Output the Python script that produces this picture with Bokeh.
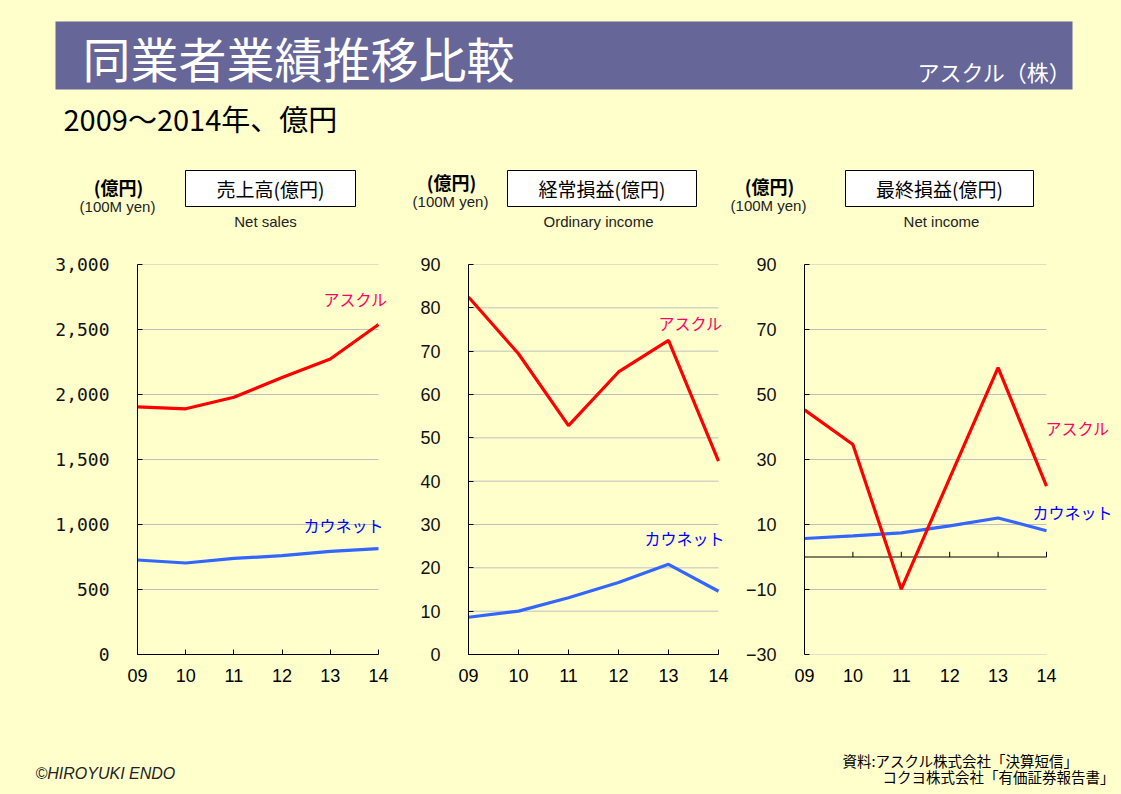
from bokeh.plotting import figure
from bokeh.models import Range1d, FixedTicker, Label, NumeralTickFormatter
from bokeh.layouts import column, row
from bokeh.embed import file_html
from bokeh.resources import INLINE
from bokeh.core.properties import value

# ---------------- data ----------------
years = [2009, 2010, 2011, 2012, 2013, 2014]
year_labels = ["09", "10", "11", "12", "13", "14"]

askul_sales = [1905, 1890, 1979, 2130, 2273, 2538]
kaunet_sales = [727, 704, 739, 760, 793, 814]

askul_ordinary = [82.5, 69.4, 52.8, 65.2, 72.5, 44.6]
kaunet_ordinary = [8.6, 10.0, 13.1, 16.6, 20.8, 14.6]

askul_net = [45.3, 34.6, -9.9, 24.3, 58.3, 21.8]
kaunet_net = [5.7, 6.5, 7.4, 9.6, 12.0, 8.1]

series_names = ["アスクル", "カウネット"]
panel_titles = ["売上高(億円)", "経常損益(億円)", "最終損益(億円)"]
panel_en = ["Net sales", "Ordinary income", "Net income"]
sales_ticks = [0, 500, 1000, 1500, 2000, 2500, 3000]
ordinary_ticks = [0, 10, 20, 30, 40, 50, 60, 70, 80, 90]
net_ticks = [-30, -10, 10, 30, 50, 70, 90]

BG = "#FFFFCC"
BAR = "#666699"
RED = "#FF0000"
BLUE = "#3366FF"
RED_TXT = "#FF0066"
BLUE_TXT = "#0000FF"
GRID = "#C0C0C0"
JP = "Noto Sans CJK JP"
EN = "Liberation Sans"


def base_fig(width, height, xr, yr, **kw):
    p = figure(width=width, height=height, x_range=xr, y_range=yr,
               output_backend="svg", toolbar_location=None, **kw)
    p.background_fill_color = BG
    p.border_fill_color = BG
    p.outline_line_color = None
    return p


def blank_fig(width, y0, y1):
    p = base_fig(width, y1 - y0, Range1d(0, width), Range1d(y1, y0),
                 x_axis_location=None, y_axis_location=None,
                 min_border_left=0, min_border_right=0,
                 min_border_top=0, min_border_bottom=0)
    p.grid.visible = False
    return p


# ---------------- header ----------------
head = blank_fig(1121, 0, 240)
head.quad(left=[55], right=[1072], top=[21], bottom=[89],
          fill_color=BAR, line_color=None)
head.text(x=[82], y=[56], text=["同業者業績推移比較"], text_color="white",
          text_font=value(JP), text_font_size=value("48px"),
          text_align="left", text_baseline="middle")
head.text(x=[1071], y=[70], text=["アスクル（株）"], text_color="white",
          text_font=value(JP), text_font_size=value("22px"),
          text_align="right", text_baseline="middle")
head.text(x=[63], y=[117], text=["2009～2014年、億円"], text_color="black",
          text_font=value(JP), text_font_size=value("29px"),
          text_align="left", text_baseline="middle")

unit_x = [118, 451, 769]
unit_y = [186, 181, 185]
box_l = [185, 507, 845]
box_r = [355, 696, 1033]
en_x = [265, 598, 941]
head.text(x=unit_x, y=unit_y, text=["(億円)"] * 3, text_color="black",
          text_font=value(JP), text_font_size=value("18px"),
          text_font_style="bold", text_align="center", text_baseline="middle")
head.text(x=[u - 1 for u in unit_x], y=[y + 20 for y in unit_y],
          text=["(100M yen)"] * 3, text_color="#222222",
          text_font=value(EN), text_font_size=value("15px"),
          text_align="center", text_baseline="middle")
head.quad(left=box_l, right=box_r, top=[170] * 3, bottom=[206] * 3,
          fill_color="white", line_color="black", line_width=1)
head.text(x=[(a + b) / 2 for a, b in zip(box_l, box_r)], y=[188] * 3,
          text=panel_titles, text_color="black",
          text_font=value(JP), text_font_size=value("19px"),
          text_align="center", text_baseline="middle")
head.text(x=en_x, y=[220.5] * 3, text=panel_en, text_color="#222222",
          text_font=value(EN), text_font_size=value("15px"),
          text_align="center", text_baseline="middle")


# ---------------- charts ----------------
CH_H = 460
TOP, BOTTOM = 24, 46


def chart(width, left, year_px, yr, ticks, tick_font, fmt=None):
    frame_w = width - left
    x_end = years[0] + frame_w * (years[-1] - years[0]) / year_px
    p = base_fig(width, CH_H, Range1d(years[0], x_end), Range1d(*yr),
                 min_border_left=left, min_border_right=0,
                 min_border_top=TOP, min_border_bottom=BOTTOM)
    p.grid.visible = False
    # horizontal grid lines limited to the year span
    p.segment(x0=[years[0]] * len(ticks), x1=[years[-1]] * len(ticks),
              y0=ticks, y1=ticks, line_color=GRID, line_width=1)

    xa = p.xaxis[0]
    xa.ticker = FixedTicker(ticks=years)
    xa.bounds = (years[0], years[-1])
    xa.major_label_overrides = {y: l for y, l in zip(years, year_labels)}
    xa.axis_line_color = "black"
    xa.axis_line_width = 1
    xa.major_tick_line_color = "black"
    xa.major_tick_in = 5
    xa.major_tick_out = 0
    xa.minor_tick_line_color = None
    xa.major_label_standoff = 14
    xa.major_label_text_font = EN
    xa.major_label_text_font_size = "18px"
    xa.major_label_text_color = "black"

    ya = p.yaxis[0]
    ya.ticker = FixedTicker(ticks=ticks)
    if fmt is not None:
        ya.formatter = fmt
    ya.axis_line_color = "black"
    ya.axis_line_width = 1
    ya.major_tick_line_color = "black"
    ya.major_tick_in = 5
    ya.major_tick_out = 0
    ya.minor_tick_line_color = None
    ya.major_label_standoff = 28
    ya.major_label_text_font = tick_font
    ya.major_label_text_font_size = "18px"
    ya.major_label_text_color = "#111111"
    return p


def add_lines(p, a, k):
    p.line(years, k, line_color=BLUE, line_width=3.2)
    p.line(years, a, line_color=RED, line_width=3.2)


def add_label(p, txt, color, y, x_offset, align="right"):
    p.add_layout(Label(x=years[-1], y=y, x_offset=x_offset, text=txt,
                       text_color=color, text_font=JP,
                       text_font_size="16px", text_align=align,
                       text_baseline="middle"))


p1 = chart(400, 137, 241, (0, 3000), sales_ticks, "DejaVu Sans Mono",
           NumeralTickFormatter(format="0,0"))
add_lines(p1, askul_sales, kaunet_sales)
add_label(p1, series_names[0], RED_TXT, 2731, 9)
add_label(p1, series_names[1], BLUE_TXT, 995, 5)

p2 = chart(335, 68, 250, (0, 90), ordinary_ticks, EN)
add_lines(p2, askul_ordinary, kaunet_ordinary)
add_label(p2, series_names[0], RED_TXT, 76.5, 4)
add_label(p2, series_names[1], BLUE_TXT, 26.9, 6)

p3 = chart(386, 69, 242, (-30, 90), net_ticks, EN)
p3.xaxis.axis_line_color = None
p3.xaxis.major_tick_line_color = None
# zero line with upward ticks
p3.segment(x0=[years[0]], y0=[0], x1=[years[-1]], y1=[0],
           line_color="black", line_width=1)
p3.segment(x0=years[1:], y0=[0] * 5, x1=years[1:], y1=[1.6] * 5,
           line_color="black", line_width=1)
add_lines(p3, askul_net, kaunet_net)
add_label(p3, series_names[0], RED_TXT, 39.8, -1, "left")
add_label(p3, series_names[1], BLUE_TXT, 14.0, -14, "left")

# ---------------- footer ----------------
foot = blank_fig(1121, 700, 794)
foot.text(x=[35], y=[773], text=["©HIROYUKI ENDO"], text_color="#222222",
          text_font=value(EN), text_font_size=value("16px"),
          text_font_style="italic", text_align="left", text_baseline="middle")
foot.text(x=[842, 882], y=[760, 776],
          text=["資料:アスクル株式会社「決算短信」", "コクヨ株式会社「有価証券報告書」"],
          text_color="black", text_font=value(JP),
          text_font_size=value("14.5px"), text_align="left",
          text_baseline="middle")

layout = column(head, row(p1, p2, p3), foot)
html = file_html(layout, INLINE, title="同業者業績推移比較")
html = html.replace(
    "</head>",
    "<style>html,body{margin:0;padding:0;overflow:hidden;"
    "background:#FFFFCC;}</style></head>", 1)
open("out.html", "w").write(html)
